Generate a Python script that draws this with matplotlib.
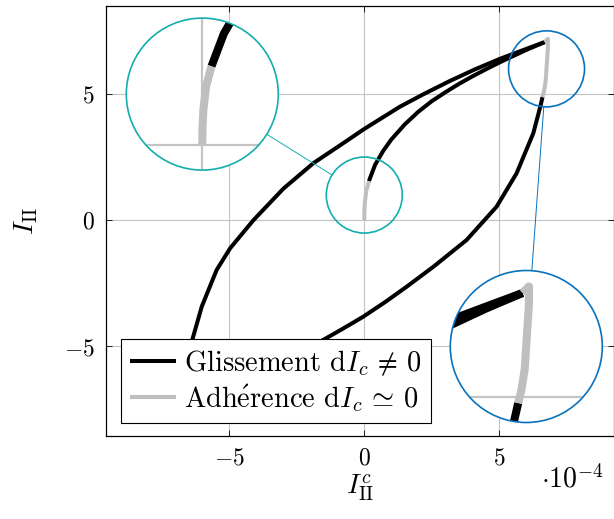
import numpy as np
import matplotlib
matplotlib.use('Agg')
import matplotlib.pyplot as plt
from matplotlib.patches import Circle, Ellipse

plt.rcParams['mathtext.fontset'] = 'cm'
plt.rcParams['font.family'] = 'serif'
plt.rcParams['font.serif'] = ['cmr10', 'DejaVu Serif']
plt.rcParams['font.size'] = 17
plt.rcParams['axes.unicode_minus'] = False

# courbe d'hysteresis, abscisses en 1e-4
load_gray_x = [0.0, 0.005, 0.02, 0.07, 0.17]
load_gray_y = [0.0, 0.35, 0.69, 1.15, 1.55]
load_black_x = [0.17, 0.40, 0.70, 1.00, 1.50, 2.00, 2.50, 3.00, 3.50, 4.00, 4.50, 5.00, 5.50,
                6.00, 6.68]
load_black_y = [1.55, 2.20, 2.75, 3.20, 3.80, 4.30, 4.72, 5.07, 5.40, 5.70, 5.98, 6.25, 6.50,
                6.75, 7.06]

unload_gray_x = [6.68, 6.80, 6.80, 6.76, 6.72, 6.66, 6.60]
unload_gray_y = [7.06, 7.19, 6.86, 6.20, 5.54, 5.14, 4.88]
unload_black_x = [6.60, 6.53, 6.26, 5.64, 4.90, 3.79, 2.56, 1.57, 0.80, -0.04, -0.85, -1.64,
                  -2.50, -3.40, -4.40, -5.40, -6.10, -6.68]
unload_black_y = [4.88, 4.55, 3.45, 1.86, 0.54, -0.78, -1.84, -2.63, -3.22, -3.82, -4.33, -4.81,
                  -5.28, -5.70, -6.15, -6.58, -6.88, -7.06]

reload_gray_x = [-6.68, -6.80, -6.80, -6.76, -6.72, -6.66]
reload_gray_y = [-7.06, -7.19, -6.86, -6.20, -5.70, -5.40]
reload_black_x = [-6.66, -6.55, -6.39, -6.02, -5.47, -4.97, -4.11, -3.00, -1.89, -0.80, 0.00,
                  1.32, 2.20, 3.17, 4.10, 5.03, 5.90, 6.68]
reload_black_y = [-5.40, -5.20, -4.81, -3.42, -1.97, -1.11, 0.00, 1.25, 2.26, 3.04, 3.62,
                  4.50, 5.00, 5.52, 5.98, 6.40, 6.75, 7.06]

ticks = [-5, 0, 5]
tick_labels = ['$-5$', '$0$', '$5$']

black_segments = [(load_black_x, load_black_y), (unload_black_x, unload_black_y),
                  (reload_black_x, reload_black_y)]
gray_segments = [(load_gray_x, load_gray_y), (unload_gray_x, unload_gray_y),
                 (reload_gray_x, reload_gray_y)]

GRAY = '#bfbfbf'
GRID = '#c4c4c4'


def draw_curves(a, lw, label=True):
    for i, (x, y) in enumerate(black_segments):
        a.plot(x, y, color='black', lw=lw, solid_capstyle='butt', solid_joinstyle='round',
               label=r'Glissement d$I_c \,\neq\, 0$' if (label and i == 0) else None)
    for i, (x, y) in enumerate(gray_segments):
        a.plot(x, y, color=GRAY, lw=lw, solid_capstyle='butt', solid_joinstyle='round',
               label=r'Adh$\mathrm{\acute{e}}$rence d$I_c \,\simeq\, 0$' if (label and i == 0) else None)


fig = plt.figure(figsize=(6.14, 5.19), dpi=100)
ax = fig.add_axes([105.5 / 614, 83 / 519, 508 / 614, 430 / 519])
draw_curves(ax, 2.9)
ax.set_xticks(ticks)
ax.set_xticklabels(tick_labels)
ax.set_yticks(ticks)
ax.set_yticklabels(tick_labels)
ax.set_xlim(-9.585, 9.23)
ax.set_ylim(-8.546, 8.49)
ax.grid(True, color=GRID, lw=0.8)
ax.tick_params(direction='in', top=True, right=True, length=4, width=0.6, pad=8)
for s in ax.spines.values():
    s.set_linewidth(0.9)
ax.set_xlabel(r'$I^c_{\mathrm{II}}$', fontsize=20)
ax.set_ylabel(r'$I_{\mathrm{II}}$', fontsize=20)
ax.xaxis.set_label_coords(0.5, -0.085)
ax.yaxis.set_label_coords(-0.129, 0.5)
fig.text(604 / 614, 1 - 488 / 519, r'$\cdot 10^{-4}$', ha='right', va='baseline', fontsize=20)

leg = ax.legend(loc='lower left', bbox_to_anchor=(0.0305, 0.0295), borderaxespad=0,
                fancybox=False, framealpha=1, edgecolor='black', handlelength=1.6,
                handletextpad=0.3, borderpad=0.32, labelspacing=0.15, fontsize=20.5)
leg.get_frame().set_linewidth(0.8)
leg.set_zorder(3)


def spy(center, target, r_px, color):
    p0 = ax.transData.transform((0, 0))
    p1 = ax.transData.transform((1, 1))
    sx, sy = p1 - p0
    ax.add_patch(Ellipse(center, 2 * r_px / sx, 2 * r_px / sy, fill=False, ec=color,
                         lw=1.2, zorder=4))
    R = 2 * r_px
    # ligne de connexion entre les deux cercles
    c = np.array(ax.transData.transform(center))
    t = np.array(ax.transData.transform(target))
    u = (t - c) / np.hypot(*(t - c))
    a = ax.transData.inverted().transform(c + r_px * u)
    b = ax.transData.inverted().transform(t - R * u)
    ax.plot([a[0], b[0]], [a[1], b[1]], color=color, lw=0.7, zorder=4)

    ins = ax.inset_axes([target[0] - R / sx, target[1] - R / sy, 2 * R / sx, 2 * R / sy],
                        transform=ax.transData)
    ins.set_facecolor('none')
    for s in ins.spines.values():
        s.set_visible(False)
    bg = Circle((0.5, 0.5), 0.5, transform=ins.transAxes, fc='white', ec='none', zorder=0)
    ins.add_patch(bg)
    draw_curves(ins, 5.8, label=False)
    ins.set_xticks(ticks)
    ins.set_yticks(ticks)
    ins.set_xlim(center[0] - r_px / sx, center[0] + r_px / sx)
    ins.set_ylim(center[1] - r_px / sy, center[1] + r_px / sy)
    ins.tick_params(length=0, labelbottom=False, labelleft=False)
    ins.grid(True, color=GRID, lw=1.6)
    for ln in ins.lines:
        ln.set_clip_path(bg)
    ins.xaxis.set_clip_path(bg)
    ins.yaxis.set_clip_path(bg)
    ins.add_patch(Circle((0.5, 0.5), 0.5, transform=ins.transAxes, fill=False, ec=color,
                         lw=1.2, zorder=10, clip_on=False))


spy((0.0, 1.0), (-6.0, 5.0), 38, '#14adad')
spy((6.75, 6.0), (6.0, -5.0), 38, '#0a72bd')

fig.savefig('out.png', dpi=100)
